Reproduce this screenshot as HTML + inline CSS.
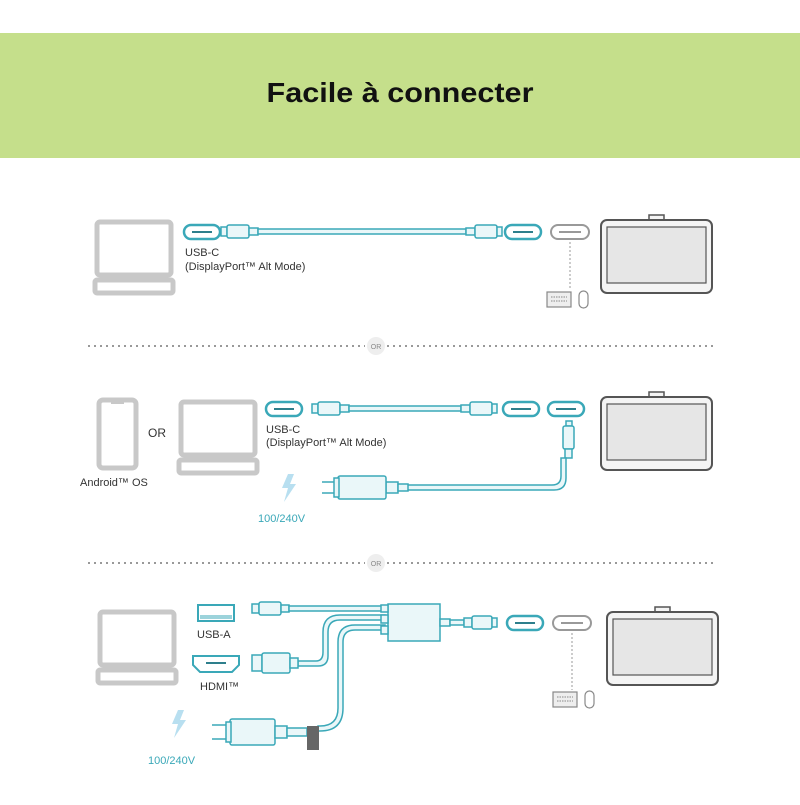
<!DOCTYPE html>
<html><head><meta charset="utf-8"><style>
body{margin:0;background:#fff;width:800px;height:800px;overflow:hidden}
text{font-family:"Liberation Sans",sans-serif}
</style></head><body>
<svg width="800" height="800" viewBox="0 0 800 800" xmlns="http://www.w3.org/2000/svg">
<defs>
<g id="tablet">
<rect x="48" y="-5" width="15" height="7" fill="#f4f4f4" stroke="#555" stroke-width="1.5"/>
<rect x="0" y="0" width="111" height="73" rx="6" fill="#f4f4f4" stroke="#555" stroke-width="2"/>
<rect x="6" y="7" width="99" height="56" fill="#e6e6e6" stroke="#555" stroke-width="1.2"/>
</g>
<g id="laptop">
<rect x="2" y="2" width="74" height="53" rx="3" fill="#fff" stroke="#c8c8c8" stroke-width="5"/>
<rect x="0" y="60" width="78" height="13" rx="2" fill="#fff" stroke="#c8c8c8" stroke-width="5"/>
</g>
<g id="ovt"><rect x="0" y="0" width="36" height="14" rx="7" fill="#fff" stroke="#3aa8b8" stroke-width="2.5"/><line x1="8" y1="7" x2="28" y2="7" stroke="#2e7f8c" stroke-width="2"/></g>
<g id="ovg"><rect x="0" y="0" width="38" height="14" rx="7" fill="#fff" stroke="#999" stroke-width="2"/><line x1="8" y1="7" x2="30" y2="7" stroke="#999" stroke-width="2"/></g>
<g id="kbm"><rect x="0" y="0" width="24" height="15" fill="#eee" stroke="#888" stroke-width="1.2"/><line x1="4" y1="5" x2="20" y2="5" stroke="#888" stroke-dasharray="1.5 1"/><line x1="4" y1="9" x2="20" y2="9" stroke="#888" stroke-dasharray="1.5 1"/><rect x="32" y="-1" width="9" height="17" rx="4.5" fill="#fff" stroke="#888" stroke-width="1.2"/></g>
<g id="bolt"><path d="M6 0 L0 14 L6 14 L2 28 L14 10 L8 10 L12 0 Z" fill="#b8dff0"/></g>
</defs>
<rect x="0" y="33" width="800" height="125" fill="#c5df8b"/>
<text x="400" y="102" text-anchor="middle" font-size="28" font-weight="bold" fill="#111" textLength="267" lengthAdjust="spacingAndGlyphs">Facile à connecter</text>

<!-- section 1 -->
<use href="#laptop" x="95" y="220"/>
<use href="#ovt" x="184" y="225"/>
<g stroke="#3aa8b8" stroke-width="1.5" fill="#eaf7f9">
<rect x="221" y="227" width="6" height="9"/><rect x="227" y="225" width="22" height="13" rx="2"/><rect x="249" y="228" width="9" height="7"/>
<rect x="258" y="229" width="208" height="5"/>
<rect x="466" y="228" width="9" height="7"/><rect x="475" y="225" width="22" height="13" rx="2"/><rect x="497" y="227" width="5" height="9"/>
</g>
<use href="#ovt" x="505" y="225"/>
<use href="#ovg" x="551" y="225"/>
<line x1="570" y1="242" x2="570" y2="290" stroke="#999" stroke-dasharray="2 2"/>
<use href="#kbm" x="547" y="292"/>
<use href="#tablet" x="601" y="220"/>
<text x="185" y="256" font-size="11" fill="#333">USB-C</text>
<text x="185" y="270" font-size="11" fill="#333">(DisplayPort™ Alt Mode)</text>

<line x1="88" y1="346" x2="365" y2="346" stroke="#999" stroke-width="2" stroke-dasharray="2 4"/>
<line x1="387" y1="346" x2="715" y2="346" stroke="#999" stroke-width="2" stroke-dasharray="2 4"/>
<circle cx="376" cy="346" r="9" fill="#eee"/><text x="376" y="349" font-size="7" text-anchor="middle" fill="#888">OR</text>

<!-- section 2 -->
<rect x="99" y="400" width="37" height="68" rx="4" fill="#fff" stroke="#c8c8c8" stroke-width="5"/>
<rect x="111" y="402" width="13" height="2" fill="#c8c8c8"/>
<text x="148" y="437" font-size="12" fill="#333">OR</text>
<use href="#laptop" x="179" y="400"/>
<text x="80" y="486" font-size="11" fill="#333">Android™ OS</text>
<use href="#ovt" x="266" y="402"/>
<g stroke="#3aa8b8" stroke-width="1.5" fill="#eaf7f9">
<rect x="312" y="404" width="6" height="9"/><rect x="318" y="402" width="22" height="13" rx="2"/><rect x="340" y="405" width="9" height="7"/>
<rect x="349" y="406" width="112" height="5"/>
<rect x="461" y="405" width="9" height="7"/><rect x="470" y="402" width="22" height="13" rx="2"/><rect x="492" y="404" width="5" height="9"/>
</g>
<use href="#ovt" x="503" y="402"/>
<use href="#ovt" x="548" y="402"/>
<text x="266" y="433" font-size="11" fill="#333">USB-C</text>
<text x="266" y="446" font-size="11" fill="#333">(DisplayPort™ Alt Mode)</text>
<g stroke="#3aa8b8" stroke-width="1.5" fill="#eaf7f9">
<rect x="566" y="421" width="6" height="5"/><rect x="563" y="426" width="11" height="23" rx="2"/><rect x="565" y="449" width="7" height="9"/>
<path d="M566 458 V478 Q566 490 554 490 H407 V485 H552 Q561 485 561 476 V458 Z"/>
<rect x="386" y="482" width="12" height="11"/><rect x="398" y="484" width="10" height="7"/>
<rect x="338" y="476" width="48" height="23" rx="2"/>
<line x1="322" y1="482" x2="338" y2="482"/><line x1="322" y1="493" x2="338" y2="493"/>
<rect x="334" y="478" width="5" height="19"/>
</g>
<use href="#bolt" x="282" y="474"/>
<text x="258" y="522" font-size="11" fill="#3aa8b8">100/240V</text>
<use href="#tablet" x="601" y="397"/>

<line x1="88" y1="563" x2="365" y2="563" stroke="#999" stroke-width="2" stroke-dasharray="2 4"/>
<line x1="387" y1="563" x2="715" y2="563" stroke="#999" stroke-width="2" stroke-dasharray="2 4"/>
<circle cx="376" cy="563" r="9" fill="#eee"/><text x="376" y="566" font-size="7" text-anchor="middle" fill="#888">OR</text>

<!-- section 3 -->
<use href="#laptop" x="98" y="610"/>
<rect x="198" y="605" width="36" height="16" fill="#fff" stroke="#3aa8b8" stroke-width="2"/>
<rect x="200" y="615" width="32" height="4" fill="#3aa8b8" opacity=".5"/>
<text x="197" y="638" font-size="11" fill="#333">USB-A</text>
<path d="M193 656 H239 V665 L232 672 H200 L193 665 Z" fill="#fff" stroke="#3aa8b8" stroke-width="2"/>
<line x1="206" y1="663" x2="226" y2="663" stroke="#2e7f8c" stroke-width="2"/>
<text x="200" y="690" font-size="11" fill="#333">HDMI™</text>
<g stroke="#3aa8b8" stroke-width="1.5" fill="#eaf7f9">
<rect x="252" y="604" width="7" height="9"/><rect x="259" y="602" width="22" height="13" rx="2"/><rect x="281" y="605" width="8" height="7"/>
<rect x="289" y="606" width="96" height="5"/>
<path d="M385 620 H340 Q328 620 328 632 V656 Q328 666 318 666 H298 V661 H316 Q323 661 323 652 V632 Q323 615 340 615 H385 Z"/>
<path d="M385 630 H355 Q343 630 343 642 V708 Q343 731 320 731 H318 V726 H320 Q338 726 338 708 V642 Q338 625 355 625 H385 Z"/>
<rect x="252" y="655" width="10" height="16"/><rect x="262" y="653" width="28" height="20" rx="2"/><rect x="290" y="658" width="8" height="10"/>
<rect x="388" y="604" width="52" height="37"/>
<rect x="381" y="605" width="7" height="7"/><rect x="381" y="615" width="7" height="8"/><rect x="381" y="626" width="7" height="8"/>
<rect x="440" y="619" width="10" height="7"/><rect x="450" y="620" width="14" height="5"/><rect x="464" y="618" width="8" height="9"/><rect x="472" y="616" width="20" height="13" rx="2"/><rect x="492" y="618" width="5" height="9"/>
<rect x="230" y="719" width="45" height="26" rx="2"/>
<line x1="212" y1="725" x2="230" y2="725"/><line x1="212" y1="739" x2="230" y2="739"/>
<rect x="226" y="722" width="5" height="20"/>
<rect x="275" y="726" width="12" height="12"/><rect x="287" y="728" width="20" height="8"/>
</g>
<rect x="307" y="726" width="12" height="24" fill="#666"/>
<use href="#ovt" x="507" y="616"/>
<use href="#ovg" x="553" y="616"/>
<line x1="572" y1="633" x2="572" y2="690" stroke="#999" stroke-dasharray="2 2"/>
<use href="#kbm" x="553" y="692"/>
<use href="#tablet" x="607" y="612"/>
<use href="#bolt" x="172" y="710"/>
<text x="148" y="764" font-size="11" fill="#3aa8b8">100/240V</text>
</svg>
</body></html>
